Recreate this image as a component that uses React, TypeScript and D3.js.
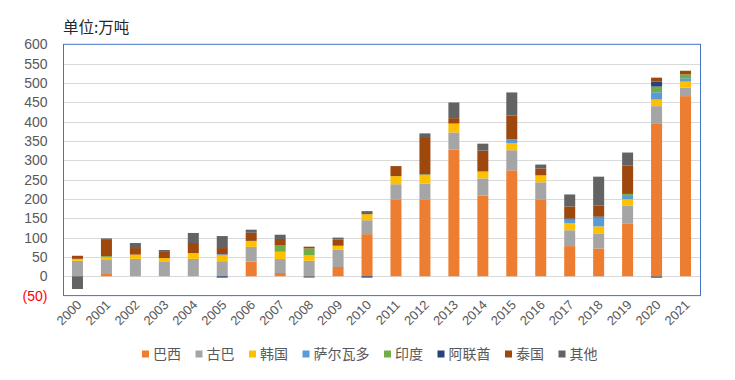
import React from "react";
import * as d3 from "d3";

const years = ["2000","2001","2002","2003","2004","2005","2006","2007","2008","2009","2010","2011","2012","2013","2014","2015","2016","2017","2018","2019","2020","2021"];
const brazil = [0,8,0,0,0,0,38,8.5,0,24,109,199,199,328,209,274,199,78,72,137,394,466];
const cuba = [40,34,45,37,45,39,38,36,40,45,36,39,41,44,44,52,44,41,39,45,46,22];
const korea = [5,7,11,10,15,15,15.5,19,14,10,15.5,21,21,23,18,18,18,18,18,17,17,15.5];
const salvador = [0,0,0,0,0,3,0,0,0,0,0,0,0,0,0,10,0,10,23,11,19,8.6];
const india = [0,3,0,0,0,0,0,16,18,0,0,0,2.6,0,0,0,0,0,0,3,14.7,10];
const uae = [0,0,0,0,0,-3.5,0,0,0,0,-3.5,0,0,0,0,0,0,2.6,2.6,0,13,0];
const thailand = [8,42,17,18,26,16,21,17,4.5,16,0,26,94,14,54,62,18,31,28,73,10,9.5];
const other = [-33,4,13,3,26,31,8,11,-3.5,5,8,0,12,40.5,18,59.5,10,31,75,34,-4,0];

const seriesNames = ["巴西","古巴","韩国","萨尔瓦多","印度","阿联酋","泰国","其他"];
const seriesValues = [brazil, cuba, korea, salvador, india, uae, thailand, other];
const colors = ["#ED7D31","#A5A5A5","#FFC000","#5B9BD5","#70AD47","#264478","#9E480E","#636363"];
const yTicks = [-50,0,50,100,150,200,250,300,350,400,450,500,550,600];

const W = 735, H = 380;
const left = 63, right = 700, top = 44.3, bottom = 295.6;
const numFont = "'Liberation Sans', Arial, sans-serif";
const cjkFont = "'Noto Sans CJK SC', sans-serif";

export default function App() {
  const x = d3.scaleBand<string>().domain(years).range([left, right]).paddingInner(0.62).paddingOuter(0.31);
  const y = d3.scaleLinear().domain([-50, 600]).range([bottom, top]);
  const rows = years.map((yr, i) => {
    const r: any = { year: yr };
    seriesNames.forEach((n, k) => { r[n] = seriesValues[k][i]; });
    return r;
  });
  const stack = d3.stack<any>().keys(seriesNames).offset(d3.stackOffsetDiverging);
  const layers = stack(rows);

  const legendItems: { name: string; x: number; color: string }[] = [];
  let lx = 142;
  seriesNames.forEach((n, k) => {
    legendItems.push({ name: n, x: lx, color: colors[k] });
    lx += 11 + n.length * 14 + 14.5;
  });

  return (
    <svg width={W} height={H} style={{ position: "absolute", left: 0, top: 0, background: "#fff" }}>
      <text x={63} y={33} fontFamily={cjkFont} fontSize={15.5} fill="#262626">单位:万吨</text>
      {yTicks.map((t) => (
        <g key={t}>
          {t > -50 && t < 600 && (
            <line x1={left} x2={right} y1={Math.round(y(t)) + 0.5} y2={Math.round(y(t)) + 0.5} stroke="#D9D9D9" strokeWidth={1} />
          )}
          <text x={47.5} y={y(t)} dy="0.35em" textAnchor="end" fontFamily={numFont} fontSize={14} fill={t < 0 ? "#FF0000" : "#595959"}>
            {t < 0 ? `(${-t})` : t}
          </text>
        </g>
      ))}
      {layers.map((layer, k) => (
        <g key={layer.key} fill={colors[k]}>
          {layer.map((d, i) => {
            const y0 = y(d[0]), y1 = y(d[1]);
            const h = Math.abs(y0 - y1);
            if (h < 0.01) return null;
            return <rect key={i} x={x(years[i])!} width={x.bandwidth()} y={Math.min(y0, y1)} height={h} />;
          })}
        </g>
      ))}
      <rect x={left + 0.5} y={top} width={right - left} height={bottom - top} fill="none" stroke="#4472C4" strokeWidth={1} />
      {years.map((yr) => {
        const cx = x(yr)! + x.bandwidth() / 2;
        return (
          <text key={yr} transform={`translate(${cx + 5},${bottom + 10}) rotate(-45)`} textAnchor="end" fontFamily={numFont} fontSize={13} fill="#595959">{yr}</text>
        );
      })}
      {legendItems.map((it) => (
        <g key={it.name}>
          <rect x={it.x} y={350.5} width={7} height={7} fill={it.color} />
          <text x={it.x + 11} y={359} fontFamily={cjkFont} fontSize={14} fill="#595959">{it.name}</text>
        </g>
      ))}
    </svg>
  );
}
